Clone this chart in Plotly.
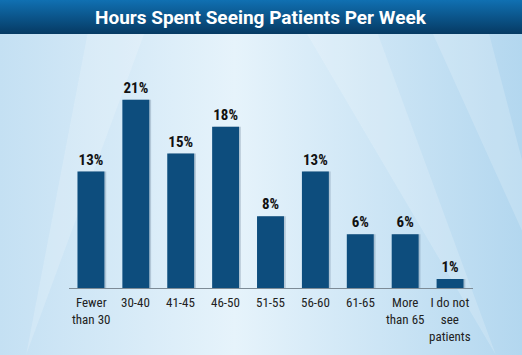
import plotly.graph_objects as go

title = "Hours Spent Seeing Patients Per Week"
categories = ["Fewer than 30", "30-40", "41-45", "46-50", "51-55", "56-60", "61-65", "More than 65", "I do not see patients"]
label_lines = [["Fewer", "than 30"], ["30-40"], ["41-45"], ["46-50"], ["51-55"], ["56-60"], ["61-65"], ["More", "than 65"], ["I do not", "see", "patients"]]
values = [13, 21, 15, 18, 8, 13, 6, 6, 1]

W, H = 522, 355
NARROW = "Liberation Sans Narrow, Arial Narrow, Roboto Condensed, sans-serif"

fig = go.Figure()

# background panel (full paper)
fig.add_trace(go.Scatter(
    x=[0, 1, 1, 0, 0], y=[0, 0, 1, 1, 0], mode="lines", fill="toself",
    line=dict(width=0), hoverinfo="skip", showlegend=False,
    fillgradient=dict(type="horizontal",
                      colorscale=[[0, "#c4e0f3"], [0.45, "#e6f3fb"], [1, "#b3d7ef"]]),
    xaxis="x", yaxis="y"))

# faint rays
rays = [
    ([0.30, 0.18, 0.05, 0.30], [1, 1, 0.0, 1]),
    ([0.55, 0.70, 0.95, 0.55], [1, 1, 0.0, 1]),
    ([0.80, 0.92, 1.0, 1.0, 0.80], [1, 1, 0.55, 0.35, 1]),
]
for rx, ry in rays:
    fig.add_trace(go.Scatter(x=rx, y=ry, mode="lines", fill="toself",
                             line=dict(width=0), fillcolor="rgba(255,255,255,0.18)",
                             hoverinfo="skip", showlegend=False, xaxis="x", yaxis="y"))

# title bar
tb = 1 - 34 / H
fig.add_trace(go.Scatter(
    x=[0, 1, 1, 0, 0], y=[tb, tb, 1, 1, tb], mode="lines", fill="toself",
    line=dict(width=0), hoverinfo="skip", showlegend=False,
    fillgradient=dict(type="vertical",
                      colorscale=[[0, "#063a63"], [1, "#1070b2"]]),
    xaxis="x", yaxis="y"))

# bar shadows
fig.add_trace(go.Bar(
    x=categories, y=values, width=0.6, offset=-0.26,
    marker=dict(color="rgba(40,70,100,0.22)", line=dict(width=0)),
    hoverinfo="skip", showlegend=False, xaxis="x2", yaxis="y2"))

# bars
fig.add_trace(go.Bar(
    x=categories, y=values, width=0.6, offset=-0.3,
    marker=dict(color="#0d4d7d", line=dict(width=0)),
    text=[f"{v}%" for v in values], textposition="outside",
    textfont=dict(family=NARROW, size=15, color="#111111", weight="bold"),
    cliponaxis=False, showlegend=False, xaxis="x2", yaxis="y2"))

annotations = [dict(
    text=f"<b>{title}</b>", x=0.5, y=1 - 17 / H, xref="paper", yref="paper",
    xanchor="center", yanchor="middle", showarrow=False,
    font=dict(family="Roboto, Arial, sans-serif", size=19, color="white"))]

for cat, lines in zip(categories, label_lines):
    annotations.append(dict(
        text="<br>".join(lines), x=cat, xref="x2", y=1 - 294 / H, yref="paper",
        yanchor="top", xanchor="center", align="center", showarrow=False,
        borderpad=0,
        font=dict(family=NARROW, size=13, color="#222222")))

x0, x1 = 68.5 / W, 472.5 / W
y0, y1 = 67 / H, (H - 64) / H

fig.update_layout(
    width=W, height=H, margin=dict(l=0, r=0, t=0, b=0),
    paper_bgcolor="#d6ebf8", plot_bgcolor="rgba(0,0,0,0)",
    barmode="overlay", bargap=0.4,
    xaxis=dict(domain=[0, 1], range=[0, 1], visible=False, fixedrange=True),
    yaxis=dict(domain=[0, 1], range=[0, 1], visible=False, fixedrange=True),
    xaxis2=dict(domain=[x0, x1], anchor="y2", range=[-0.5, 8.5], showticklabels=False,
                ticks="", showgrid=False, showline=True, linecolor="#7d8b96", linewidth=1,
                zeroline=False),
    yaxis2=dict(domain=[y0, y1], anchor="x2", range=[0, 25], visible=False,
                showgrid=False, zeroline=False),
    annotations=annotations,
)

fig.write_html("out.html", config={"displayModeBar": False},
               post_script="document.body.style.margin='0';document.body.style.overflow='hidden';")
